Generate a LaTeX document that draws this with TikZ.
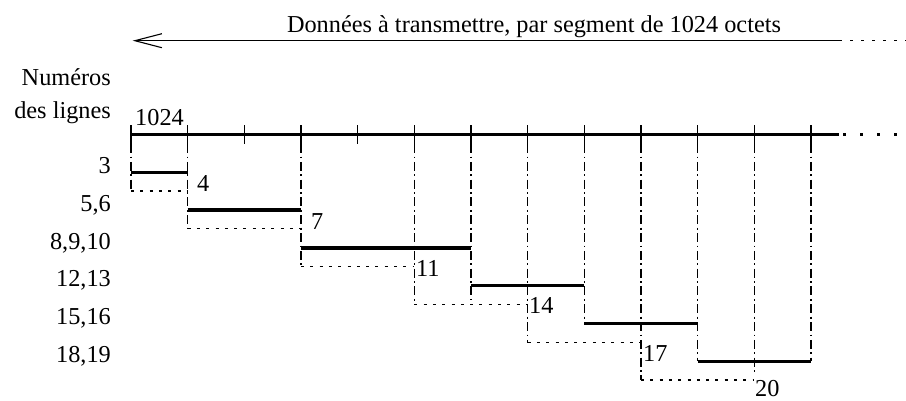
\documentclass[tikz,border=0pt]{standalone}
\usepackage{fontspec}
\setmainfont{Liberation Serif}
\usetikzlibrary{arrows.meta}
\begin{document}
\begin{tikzpicture}[x=1pt,y=-1pt,
  lbl/.style={inner sep=0pt, font=\fontsize{24.3}{29}\selectfont},
  thickline/.style={line width=3.3pt},
  thinline/.style={line width=1.1pt},
  dotline/.style={line width=1.2pt, dash pattern=on 3pt off 6.3pt},
  dashdot/.style={line width=1.2pt, dash pattern=on 9pt off 3.5pt on 1.8pt off 3.5pt},
  tickmark/.style={line width=1.3pt}]
\useasboundingbox (0,0) rectangle (906,400);
\pgfmathsetmacro{\dx}{56.6667}
% title arrow
\node[lbl, anchor=base] (title) at (534,32) {Données à transmettre, par segment de 1024 octets};
\coordinate (atip) at (132.7,40.7);
\coordinate (aend) at (839,40.7);
\coordinate (aout) at (906,40.7);
\draw[thinline, {Straight Barb[length=27pt,width=14pt]}-] (atip) -- (aend);
\draw[line width=1.2pt, dash pattern=on 2.5pt off 8.5pt] (aend) -- (aout);
% left labels
\node[lbl, anchor=base east] (num) at (111,85) {Numéros};
\node[lbl, anchor=base east] (des) at (111,118) {des lignes};
\node[lbl, anchor=base west] (kb) at (135,125) {1024};
% main line
\coordinate (m0) at (131,134.7);
\coordinate (mend) at (839,134.7);
\coordinate (mout) at (906,134.7);
\draw[thickline] (m0) -- (mend);
\draw[line width=3.3pt, dash pattern=on 3pt off 14pt] (843,134.7) -- (mout);
% ticks
\foreach \k in {0,...,12}{
  \draw[tickmark] (131+\k*\dx,125) -- (131+\k*\dx,144);
}
% verticals: k / end y
\foreach \k/\ye in {0/191,1/228.7,3/266.7,5/304.7,6/300,7/342.7,8/323.4,9/380,10/361.3,11/373,12/361.3}{
  \draw[dashdot] (131+\k*\dx,144) -- (131+\k*\dx,\ye);
}
% rows: label / solid y / solid k1 / k2 / dotted y / k1 / k2
\foreach \lab/\ys/\sa/\sb/\yd/\da/\db [count=\i] in
  {3/172.5/0/1/191/0/1,
   {5,6}/210/1/3/228.7/1/3,
   {8,9,10}/248/3/6/266.7/3/5,
   {12,13}/285.7/6/8/304.7/5/7,
   {15,16}/323.4/8/10/342.7/7/9,
   {18,19}/361.3/10/12/380/9/11}{
  \node[lbl, anchor=base east] (row\i) at (111,\ys+1) {\lab};
  \draw[thickline] (131+\sa*\dx,\ys) -- (131+\sb*\dx,\ys);
  \draw[dotline] (131+\da*\dx,\yd) -- (131+\db*\dx,\yd);
}
% end labels
\node[lbl, anchor=base west] (e4) at (197,191) {4};
\node[lbl, anchor=base west] (e7) at (311,229) {7};
\node[lbl, anchor=base west] (e11) at (416,276) {11};
\node[lbl, anchor=base west] (e14) at (529,313) {14};
\node[lbl, anchor=base west] (e17) at (643,361.7) {17};
\node[lbl, anchor=base west] (e20) at (755,396.5) {20};
\end{tikzpicture}
\end{document}
